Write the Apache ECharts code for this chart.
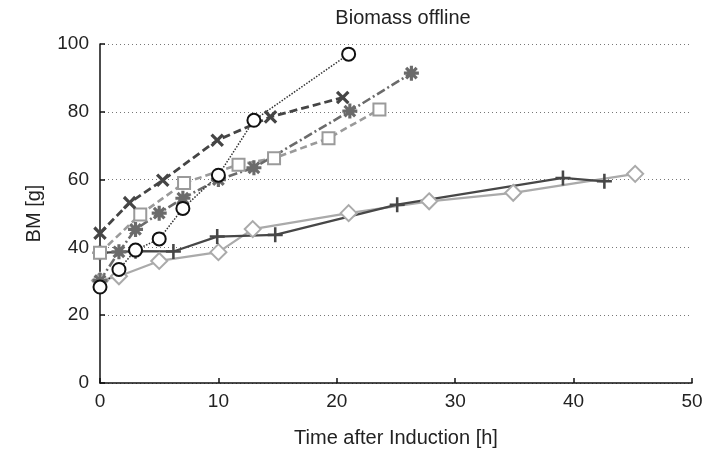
<!DOCTYPE html>
<html>
<head>
<meta charset="utf-8">
<script src="https://cdn.jsdelivr.net/npm/echarts@6/dist/echarts.min.js"></script>
<style>html,body{margin:0;padding:0;background:#fff}#c{width:707px;height:458px}</style>
</head>
<body>
<div id="c"></div>
<script>
// Data (time [h], biomass [g])
const circleT  = [0, 1.6, 3, 5, 7, 10, 13, 21];
const circleBM = [28.3, 33.5, 39.2, 42.5, 51.5, 61.3, 77.5, 97];

const crossT  = [0, 2.5, 5.3, 9.9, 14.4, 20.5];
const crossBM = [44.2, 53.2, 59.8, 71.6, 78.5, 84.2];

const starT  = [0, 1.6, 3, 5, 7, 10, 13, 21.1, 26.3];
const starBM = [30.2, 38.7, 45.3, 50.1, 54.5, 60, 63.5, 80.2, 91.4];

const squareT  = [0, 3.4, 7.1, 11.7, 14.7, 19.3, 23.6];
const squareBM = [38.4, 49.7, 59, 64.4, 66.3, 72.2, 80.7];

const plusT  = [0, 3, 6.2, 9.9, 14.8, 25.1, 39.1, 42.6];
const plusBM = [38.4, 38.9, 38.8, 43.2, 43.7, 52.6, 60.5, 59.5];

const diamondT  = [0, 1.6, 5, 10, 12.9, 21, 27.8, 34.9, 45.2];
const diamondBM = [30.2, 31.5, 36, 38.6, 45.4, 50.1, 53.6, 56.1, 61.7];

const xTicks = [0, 10, 20, 30, 40, 50];
const yTicks = [0, 20, 40, 60, 80, 100];

function pairs(t, v) { return t.map((x, i) => [x, v[i]]); }

// symbol shapes
function plusPts(angle, arm, half) {
  const base = [[-half,-arm],[half,-arm],[half,-half],[arm,-half],[arm,half],[half,half],
                [half,arm],[-half,arm],[-half,half],[-arm,half],[-arm,-half],[-half,-half]];
  const c = Math.cos(angle), s = Math.sin(angle);
  return base.map(([x,y]) => [x*c - y*s + 10, x*s + y*c + 10]);
}
function toPath(pts) {
  return 'M' + pts.map(p => p[0].toFixed(3) + ',' + p[1].toFixed(3)).join('L') + 'Z';
}
const plusPath = 'path://' + toPath(plusPts(0, 10, 1.7));
const crossPath = 'path://' + toPath(plusPts(0, 10, 2.0));
const starPath = 'path://' + toPath(plusPts(0, 10, 2.1)) + toPath(plusPts(Math.PI/4, 10, 2.1));

const chart = echarts.init(document.getElementById('c'), null, {renderer: 'canvas'});
const font = '"Liberation Sans", Arial, sans-serif';

function ser(name, data, color, lineType, symbol, size, rotate, extra) {
  return Object.assign({
    name: name, type: 'line', data: data,
    symbol: symbol, symbolSize: size, symbolRotate: rotate || 0,
    showSymbol: true, animation: false,
    lineStyle: {color: color, width: 2.3, type: lineType},
    itemStyle: {color: color},
    z: 3
  }, extra || {});
}

chart.setOption({
  animation: false,
  backgroundColor: '#ffffff',
  title: {
    text: 'Biomass offline', left: 398, top: 3, textAlign: 'center',
    textStyle: {fontFamily: font, fontSize: 20, fontWeight: 'normal', color: '#222'}
  },
  grid: {left: 100, right: 15, top: 44, bottom: 75},
  xAxis: {
    type: 'value', min: 0, max: 50, interval: 10,
    name: 'Time after Induction [h]', nameLocation: 'middle', nameGap: 45,
    nameTextStyle: {fontFamily: font, fontSize: 20, color: '#222'},
    axisLine: {show: true, lineStyle: {color: '#111', width: 1.5}},
    axisTick: {show: true, inside: true, length: 5, lineStyle: {color: '#111', width: 1.5}},
    axisLabel: {fontFamily: font, fontSize: 19, color: '#222', margin: 9,
      formatter: v => xTicks.includes(v) ? String(v) : ''},
    splitLine: {show: false}
  },
  yAxis: {
    type: 'value', min: 0, max: 100, interval: 20,
    name: 'BM [g]', nameLocation: 'middle', nameGap: 56, nameRotate: 90,
    nameTextStyle: {fontFamily: font, fontSize: 20, color: '#222'},
    axisLine: {show: true, lineStyle: {color: '#111', width: 1.5}},
    axisTick: {show: true, inside: true, length: 5, lineStyle: {color: '#111', width: 1.5}},
    axisLabel: {fontFamily: font, fontSize: 19, color: '#222', margin: 11,
      formatter: v => yTicks.includes(v) ? String(v) : ''},
    splitLine: {show: true, lineStyle: {color: '#777', width: 1, type: [1, 3]}}
  },
  series: [
    ser('diamond', pairs(diamondT, diamondBM), '#aaaaaa', 'solid', 'emptyDiamond', 16, 0,
        {itemStyle: {color: '#aaaaaa', borderWidth: 3}}),
    ser('plus', pairs(plusT, plusBM), '#474747', 'solid', plusPath, 15, 0),
    ser('square', pairs(squareT, squareBM), '#9a9a9a', 'dashed', 'emptyRect', 12, 0,
        {itemStyle: {color: '#9a9a9a', borderWidth: 3},
         lineStyle: {color: '#9a9a9a', width: 2.6, type: [7, 4]}}),
    ser('star', pairs(starT, starBM), '#6b6b6b', [9, 3, 2, 3], starPath, 15, 0,
        {lineStyle: {color: '#6b6b6b', width: 2.6, type: [9, 3, 2, 3]}}),
    ser('cross', pairs(crossT, crossBM), '#454545', 'dashed', crossPath, 16, 45,
        {lineStyle: {color: '#454545', width: 2.8, type: [8, 4]}}),
    ser('circle', pairs(circleT, circleBM), '#111111', 'dotted', 'emptyCircle', 13, 0,
        {itemStyle: {color: '#111111', borderWidth: 3},
         lineStyle: {color: '#333', width: 1.5, type: [1.5, 1.5]}})
  ]
});
</script>
</body>
</html>
